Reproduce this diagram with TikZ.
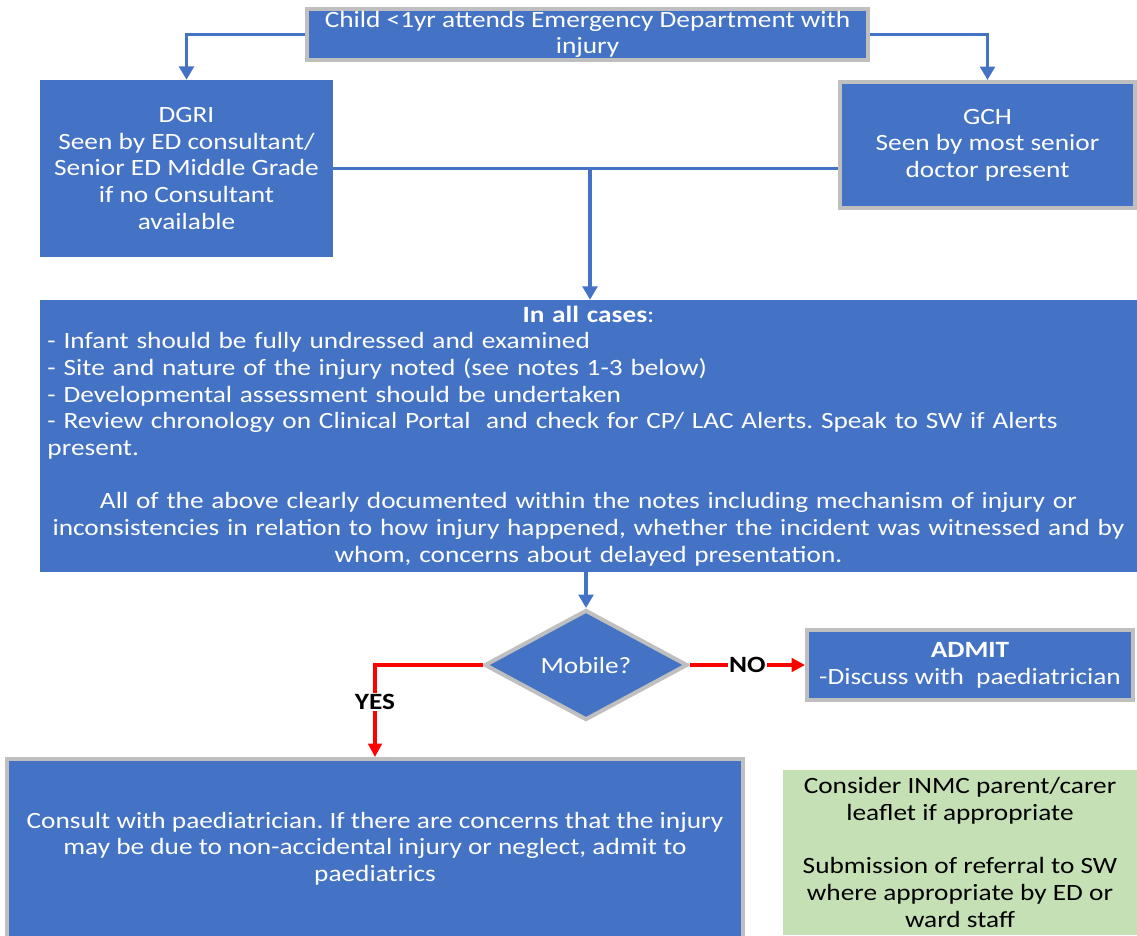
\documentclass[tikz,border=0pt]{standalone}
\usepackage{fontspec}
\setmainfont{Carlito}[FakeStretch=1.17]
\usetikzlibrary{shapes.geometric,arrows.meta}
\definecolor{boxblue}{HTML}{4472C4}
\definecolor{edgegray}{HTML}{BFBFBF}
\definecolor{notegreen}{HTML}{C5E0B4}
\definecolor{arrowred}{HTML}{FF0000}
\def\px{0.75pt}
\frenchspacing
\begin{document}
\begin{tikzpicture}[x=0.75pt,y=-0.75pt,
  txt/.style={font=\fontsize{17.5}{20}\selectfont},
  bluebox/.style={txt,rectangle,fill=boxblue,text=white,align=center,inner sep=0pt},
  framed/.style={draw=edgegray,line width=3pt},
  flow/.style={draw=boxblue,line width=2.4pt,-{Triangle[length=10pt,width=11pt]}},
  plainflow/.style={draw=boxblue,line width=2.4pt},
  redflow/.style={draw=arrowred,line width=2.4pt,-{Triangle[length=10pt,width=10pt]}},
  lbl/.style={txt,font=\fontsize{17.5}{20}\selectfont\bfseries,fill=white,text=black,inner sep=1pt}
]
\useasboundingbox (0,0) rectangle (1137,935);
% nodes
\node[bluebox,framed,minimum width=561*\px,minimum height=51*\px] (top) at (587.5,34.5)
  {Child <1yr attends Emergency Department with\\ injury};
\node[bluebox,minimum width=293*\px,minimum height=177*\px] (dgri) at (186.5,168.5)
  {DGRI\\ Seen by ED consultant/\\ Senior ED Middle Grade\\ if no Consultant\\ available};
\node[bluebox,framed,minimum width=295*\px,minimum height=126*\px] (gch) at (987.5,145)
  {GCH\\ Seen by most senior\\ doctor present};
\node[bluebox,minimum width=1097*\px,minimum height=272*\px,text width=1082*\px,align=left] (all) at (588.5,436)
  {\parindent=0pt{\centering\textbf{In all cases}:\par}
   - Infant should be fully undressed and examined\\
   - Site and nature of the injury noted (see notes 1-3 below)\\
   - Developmental assessment should be undertaken\\
   - Review chronology on Clinical Portal~ and check for CP/ LAC Alerts. Speak to SW if Alerts\\
   present.\par
   \vspace{20pt}
   {\centering All of the above clearly documented within the notes including mechanism of injury or\\
   inconsistencies in relation to how injury happened, whether the incident was witnessed and by\\
   whom, concerns about delayed presentation.\par}};
\node[bluebox,framed,diamond,minimum width=203*\px,minimum height=110*\px] (dia) at (586,665) {Mobile?};
\node[bluebox,framed,minimum width=326*\px,minimum height=70*\px] (admit) at (970,665)
  {\textbf{ADMIT}\\ -Discuss with~ paediatrician};
\node[bluebox,framed,minimum width=736*\px,minimum height=179*\px] (consult) at (375,848.5)
  {Consult with paediatrician. If there are concerns that the injury\\
   may be due to non-accidental injury or neglect, admit to\\ paediatrics};
\node[txt,fill=notegreen,text=black,align=center,inner sep=0pt,minimum width=354*\px,minimum height=165*\px] (note) at (960,852.5)
  {Consider INMC parent/carer\\ leaflet if appropriate\\[20pt]
   Submission of referral to SW\\ where appropriate by ED or\\ ward staff};
% connectors
\draw[flow] (top.west) -| (dgri.north);
\draw[flow] (top.east) -| (gch.north);
\coordinate (j) at (590,168.5);
\draw[plainflow] (dgri.east) -- (dgri.east -| gch.west);
\draw[flow] (j) -- (j |- all.north);
\draw[flow] (dia.north |- all.south) -- (dia.north);
\draw[redflow] (dia.east) -- node[lbl] {NO} (admit.west);
\draw[redflow] (dia.west) -| node[lbl,pos=0.7] {YES} (consult.north);
\end{tikzpicture}
\end{document}
